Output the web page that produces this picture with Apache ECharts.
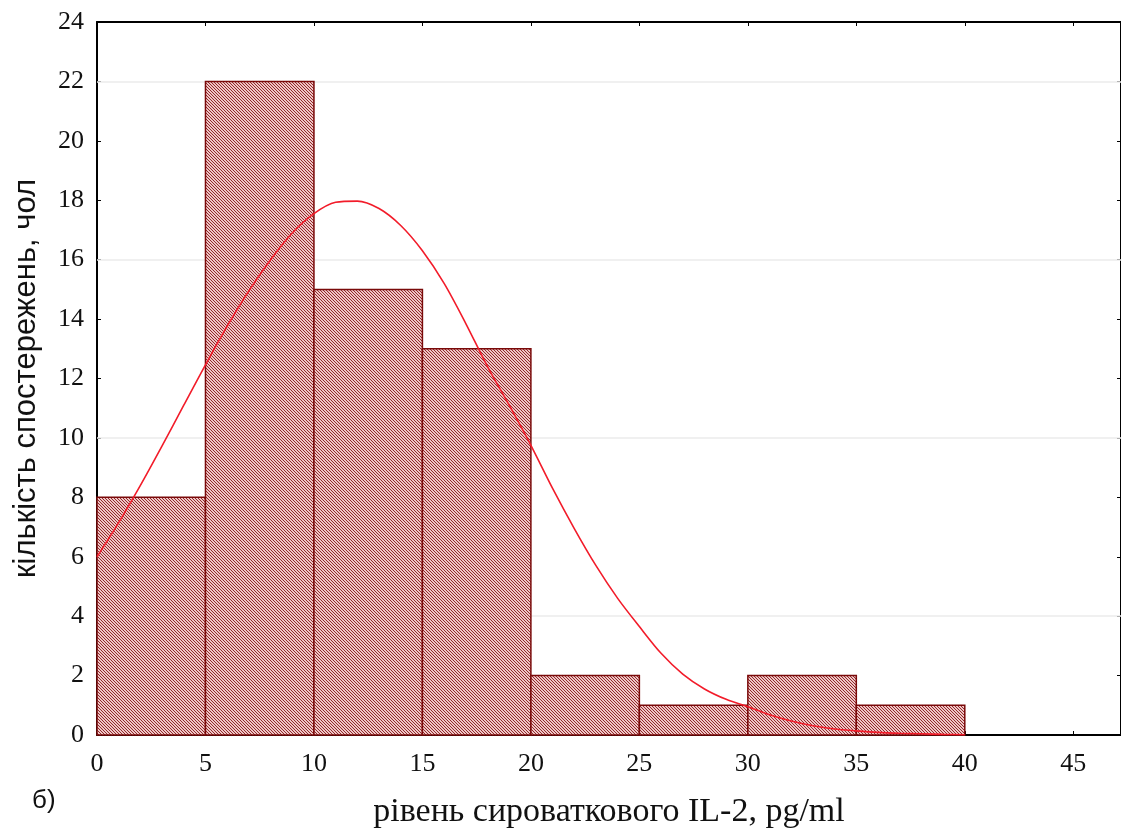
<!DOCTYPE html>
<html>
<head>
<meta charset="utf-8">
<script src="https://cdn.jsdelivr.net/npm/echarts@6/dist/echarts.min.js"></script>
<style>
  html, body { margin: 0; padding: 0; background: #fff; }
  #chart { width: 1121px; height: 834px; }
</style>
</head>
<body>
<div id="chart"></div>
<script>
// Histogram of serum IL-2 levels with fitted normal curve
const binStarts = [0, 5, 10, 15, 20, 25, 30, 35];
const binWidth = 5;
const counts = [8, 22, 15, 13, 2, 1, 2, 1];

// fitted curve, sampled points [x, count]
const curveX = [0, 1, 2, 3, 4, 5, 6, 7, 8, 9, 10, 11, 12, 13, 14, 15, 16, 17, 18, 19, 20,
                21, 22, 23, 24, 25, 26, 27, 28, 29, 30, 31, 32, 33, 34, 35, 36, 37, 38, 39, 40];
const curveY = [6.0, 7.15, 8.4, 9.73, 11.1, 12.46, 13.76, 14.95, 16.0, 16.9, 17.55, 17.93, 17.97, 17.72, 17.15, 16.3,
                15.2, 13.85, 12.4, 11.1, 9.75, 8.3, 6.95, 5.7, 4.6, 3.65, 2.75, 2.05, 1.55, 1.2, 0.95,
                0.68, 0.47, 0.31, 0.2, 0.14, 0.09, 0.06, 0.04, 0.02, 0.01];

const xTicks = [0, 5, 10, 15, 20, 25, 30, 35, 40, 45];
const guideLevels = [4, 10, 16, 22];

const xAxisTitle = 'рівень сироваткового IL-2, pg/ml';
const yAxisTitle = 'кількість спостережень, чол';
const panelLabel = 'б)';

// hatched fill: thin dark-red diagonals on pale pink
function hatch() {
  const c = document.createElement('canvas');
  c.width = 3; c.height = 3;
  const g = c.getContext('2d');
  g.fillStyle = '#eec6c6';
  g.fillRect(0, 0, 3, 3);
  g.fillStyle = '#92282a';
  for (let i = 0; i < 3; i++) g.fillRect(i, i, 1, 1);
  return c;
}
const hatchImg = hatch();

const serif = '"Liberation Serif", "DejaVu Serif", serif';
const sans = '"Liberation Sans", Arial, sans-serif';

const chart = echarts.init(document.getElementById('chart'));
chart.setOption({
  animation: false,
  grid: { left: 97, top: 22, right: 0, bottom: 98, show: false },
  graphic: [{
    type: 'text', left: 32, top: 788,
    style: { text: panelLabel, font: '26px ' + sans, fill: '#111' }
  }],
  xAxis: [{
    type: 'value', min: 0, max: 47.2, position: 'bottom',
    splitLine: { show: false },
    axisLine: { onZero: false, lineStyle: { color: '#000', width: 2 } },
    axisTick: { inside: true, length: 4, lineStyle: { color: '#000' }, customValues: xTicks },
    axisLabel: { customValues: xTicks, fontFamily: serif, fontSize: 26, color: '#111', margin: 16 },
    name: xAxisTitle, nameLocation: 'middle', nameGap: 60,
    nameTextStyle: { fontFamily: serif, fontSize: 34, color: '#111' }
  }, {
    type: 'value', min: 0, max: 47.2, position: 'top',
    splitLine: { show: false },
    axisLine: { onZero: false, lineStyle: { color: '#000', width: 2 } },
    axisTick: { inside: true, length: 4, lineStyle: { color: '#000' }, customValues: xTicks },
    axisLabel: { show: false }
  }],
  yAxis: [{
    type: 'value', min: 0, max: 24, interval: 2, position: 'left',
    splitLine: { show: false },
    axisLine: { show: true, onZero: false, lineStyle: { color: '#000', width: 2 } },
    axisTick: { show: true, inside: true, length: 4, lineStyle: { color: '#000' } },
    axisLabel: { fontFamily: serif, fontSize: 26, color: '#111', margin: 13 },
    name: yAxisTitle, nameLocation: 'middle', nameRotate: 90, nameGap: 55,
    nameTextStyle: { fontFamily: sans, fontSize: 31, color: '#111' }
  }, {
    type: 'value', min: 0, max: 24, interval: 2, position: 'right',
    splitLine: { show: false },
    axisLine: { show: true, onZero: false, lineStyle: { color: '#000', width: 2 } },
    axisTick: { show: true, inside: true, length: 4, lineStyle: { color: '#000' } },
    axisLabel: { show: false }
  }],
  series: [{
    // faint horizontal guides behind the bars
    type: 'line',
    xAxisIndex: 0, yAxisIndex: 0,
    data: [],
    z: 1,
    markLine: {
      z: 1,
      silent: true, symbol: 'none', label: { show: false },
      lineStyle: { color: '#ebebeb', type: 'solid', width: 1.5 },
      data: guideLevels.map(v => ({ yAxis: v }))
    }
  }, {
    type: 'custom',
    xAxisIndex: 0, yAxisIndex: 0,
    data: binStarts.map((s, i) => [s, s + binWidth, counts[i]]),
    encode: { x: [0, 1], y: 2 },
    renderItem: function (params, api) {
      const p0 = api.coord([api.value(0), 0]);
      const p1 = api.coord([api.value(1), api.value(2)]);
      return {
        type: 'rect',
        shape: { x: p0[0], y: p1[1], width: p1[0] - p0[0], height: p0[1] - p1[1] },
        style: { fill: { image: hatchImg, repeat: 'repeat' }, stroke: '#7a0a0a', lineWidth: 1.5 }
      };
    },
    z: 2
  }, {
    type: 'line',
    xAxisIndex: 0, yAxisIndex: 0,
    data: curveX.map((x, i) => [x, curveY[i]]),
    smooth: 0.3,
    showSymbol: false,
    lineStyle: { color: '#f21c2a', width: 1.6 },
    z: 3
  }]
});
</script>
</body>
</html>
